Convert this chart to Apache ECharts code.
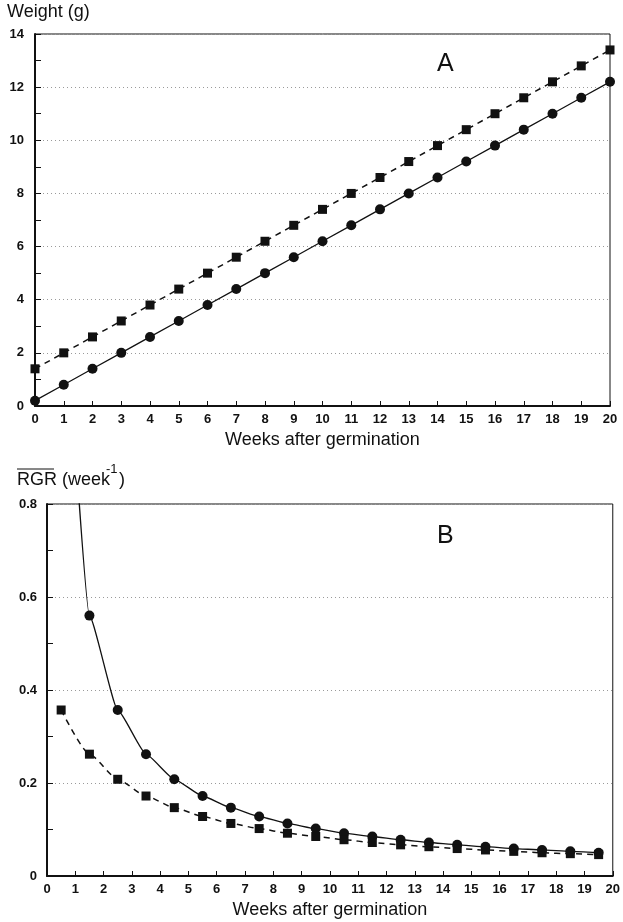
<!DOCTYPE html>
<html>
<head>
<meta charset="utf-8">
<script src="https://cdn.jsdelivr.net/npm/echarts@6/dist/echarts.min.js"></script>
<style>
  html,body{margin:0;padding:0;background:#fff;}
  #chart{width:623px;height:922px;}
</style>
</head>
<body>
<div id="chart"></div>
<script>
// panel A: weight vs weeks
const weeks = [0,1,2,3,4,5,6,7,8,9,10,11,12,13,14,15,16,17,18,19,20];
const weightCircle = [0.2,0.8,1.4,2.0,2.6,3.2,3.8,4.4,5.0,5.6,6.2,6.8,7.4,8.0,8.6,9.2,9.8,10.4,11.0,11.6,12.2];
const weightSquare = [1.4,2.0,2.6,3.2,3.8,4.4,5.0,5.6,6.2,6.8,7.4,8.0,8.6,9.2,9.8,10.4,11.0,11.6,12.2,12.8,13.4];

// panel B: mean RGR, plotted mid-interval
const rgrWeeks = [0.5,1.5,2.5,3.5,4.5,5.5,6.5,7.5,8.5,9.5,10.5,11.5,12.5,13.5,14.5,15.5,16.5,17.5,18.5,19.5];
const rgrCircle = [1.39,0.56,0.357,0.262,0.208,0.172,0.147,0.128,0.113,0.102,0.092,0.085,0.078,0.072,0.067,0.063,0.059,0.056,0.053,0.050];
const rgrSquare = [0.357,0.262,0.208,0.172,0.147,0.128,0.113,0.102,0.092,0.085,0.078,0.072,0.067,0.063,0.059,0.056,0.053,0.050,0.048,0.046];

const ink = '#111';
const font = 'Liberation Sans';
const pair = (xs, ys) => xs.map((x, i) => [x, ys[i]]);

const chart = echarts.init(document.getElementById('chart'));

function xAxisCfg(gridIndex) {
  return {
    gridIndex: gridIndex,
    type: 'value', min: 0, max: 20, interval: 1,
    name: 'Weeks after germination',
    nameLocation: 'middle', nameGap: 25,
    nameTextStyle: {fontSize: 18, color: ink, fontFamily: font},
    axisLine: {onZero: false, lineStyle: {color: ink, width: 2}},
    axisTick: {inside: true, length: 5, lineStyle: {color: ink, width: 1}},
    axisLabel: {color: ink, fontSize: 13, fontWeight: 'bold', margin: 7, fontFamily: font},
    splitLine: {show: false}
  };
}

function yAxisCfg(gridIndex, max, interval, margin) {
  return {
    gridIndex: gridIndex,
    type: 'value', min: 0, max: max, interval: interval,
    axisLine: {onZero: false, lineStyle: {color: ink, width: 2}},
    axisTick: {inside: true, length: 6, lineStyle: {color: ink}},
    minorTick: {show: true, splitNumber: 2, length: 6, lineStyle: {color: ink}},
    axisLabel: {color: ink, fontSize: 13, fontWeight: 'bold', margin: margin, fontFamily: font},
    splitLine: {show: true, lineStyle: {color: '#9a9a9a', type: [1, 3], width: 1}}
  };
}

const option = {
  animation: false,
  backgroundColor: '#fff',
  grid: [
    {left: 35, right: 13, top: 34, height: 372, show: true, borderColor: ink, borderWidth: 1},
    {left: 47, right: 8, top: 504, height: 372, show: true, borderColor: ink, borderWidth: 1}
  ],
  xAxis: [xAxisCfg(0), xAxisCfg(1)],
  yAxis: [yAxisCfg(0, 14, 2, 11), yAxisCfg(1, 0.8, 0.2, 10)],
  series: [
    {
      type: 'line', xAxisIndex: 0, yAxisIndex: 0,
      data: pair(weeks, weightCircle),
      symbol: 'circle', symbolSize: 10,
      itemStyle: {color: ink},
      lineStyle: {color: ink, width: 1.3}
    },
    {
      type: 'line', xAxisIndex: 0, yAxisIndex: 0,
      data: pair(weeks, weightSquare),
      symbol: 'rect', symbolSize: 9,
      itemStyle: {color: ink},
      lineStyle: {color: ink, width: 1.5, type: [6, 5]}
    },
    {
      type: 'line', xAxisIndex: 1, yAxisIndex: 1,
      data: pair(rgrWeeks, rgrCircle),
      smooth: 0.15, smoothMonotone: 'x', clip: true,
      symbol: 'circle', symbolSize: 10,
      itemStyle: {color: ink},
      lineStyle: {color: ink, width: 1.3}
    },
    {
      type: 'line', xAxisIndex: 1, yAxisIndex: 1,
      data: pair(rgrWeeks, rgrSquare),
      smooth: 0.2, smoothMonotone: 'x', clip: true,
      symbol: 'rect', symbolSize: 9,
      itemStyle: {color: ink},
      lineStyle: {color: ink, width: 1.5, type: [6, 5]}
    }
  ],
  graphic: [
    {type: 'text', left: 7, top: 3,
      style: {text: 'Weight (g)', fontSize: 18, fill: ink, fontFamily: font}},
    {type: 'text', left: 17, top: 471,
      style: {text: 'RGR (week', fontSize: 18, fill: ink, fontFamily: font}},
    {type: 'text', left: 106, top: 463,
      style: {text: '-1', fontSize: 13, fill: ink, fontFamily: font}},
    {type: 'text', left: 119, top: 471,
      style: {text: ')', fontSize: 18, fill: ink, fontFamily: font}},
    {type: 'line', shape: {x1: 17, y1: 469, x2: 54, y2: 469},
      style: {stroke: ink, lineWidth: 1}},
    {type: 'text', left: 437, top: 52,
      style: {text: 'A', fontSize: 25, fill: ink, fontFamily: font}},
    {type: 'text', left: 437, top: 524,
      style: {text: 'B', fontSize: 25, fill: ink, fontFamily: font}}
  ]
};

chart.setOption(option);
</script>
</body>
</html>
